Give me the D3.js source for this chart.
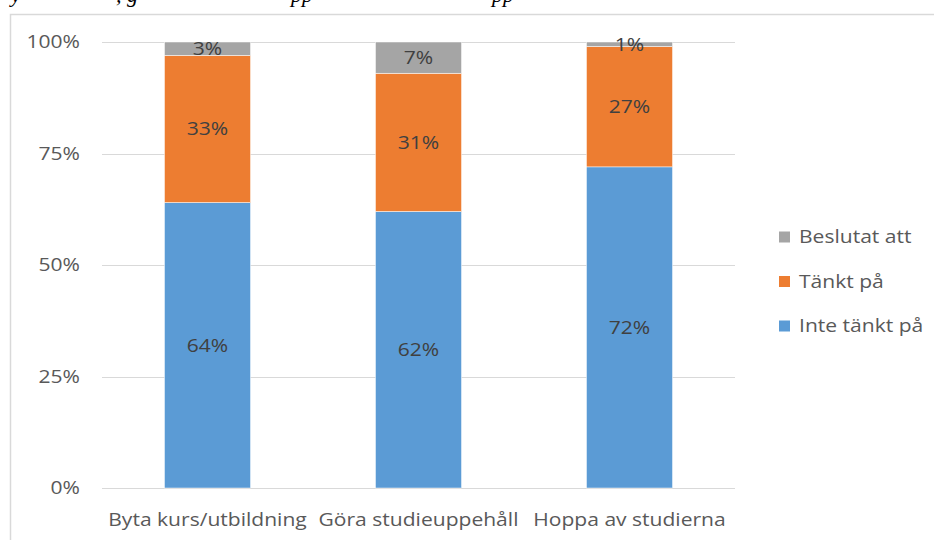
<!DOCTYPE html>
<html><head><meta charset="utf-8">
<script src="https://cdn.jsdelivr.net/npm/d3@7"></script>
<style>body{margin:0;background:#fff}svg{display:block}</style>
</head><body>
<svg id="c" width="934" height="540"></svg>
<script>
const categories = ["Byta kurs/utbildning", "Göra studieuppehåll", "Hoppa av studierna"];
const seriesNames = ["Inte tänkt på", "Tänkt på", "Beslutat att"];
const inteTanktPa = [64, 62, 72];
const tanktPa = [33, 31, 27];
const beslutatAtt = [3, 7, 1];
const yTicks = [0, 25, 50, 75, 100];
const colors = ["#5b9bd5", "#ed7d31", "#a5a5a5"];

const svg = d3.select("#c");
const font = "'Open Sans', 'Noto Sans', sans-serif";
const fs = 18;
const stretch = "scale(1.17,1)";

// clipped caption line from the page above
const cap = svg.append("g").attr("font-family", "'Liberation Serif', serif")
  .attr("font-style", "italic").attr("font-size", 22).attr("fill", "#000");
[["y", 11], [", g", 116], ["pp", 291], ["pp", 492]].forEach(([t, x]) =>
  cap.append("text").attr("x", x).attr("y", 2).text(t));

// chart frame
svg.append("rect").attr("x", 10.5).attr("y", 14.5).attr("width", 940).attr("height", 540)
  .attr("fill", "none").attr("stroke", "#d9d9d9").attr("stroke-width", 1.5);

const x = d3.scaleBand().domain(categories).range([102, 735]).paddingInner(0.592).paddingOuter(0.296);
const y = d3.scaleLinear().domain([0, 100]).range([488, 42]);

// gridlines
svg.append("g").selectAll("line").data(yTicks).join("line")
  .attr("x1", 102).attr("x2", 735)
  .attr("y1", d => Math.round(y(d)) + 0.5).attr("y2", d => Math.round(y(d)) + 0.5)
  .attr("stroke", "#d9d9d9").attr("stroke-width", 1);

// y axis labels
const yAxis = d3.axisLeft(y).tickValues(yTicks).tickFormat(d => d + "%").tickSize(0).tickPadding(0);
const ya = svg.append("g").attr("transform", "translate(80,0)").call(yAxis);
ya.select(".domain").remove();
ya.selectAll("text").attr("font-family", font).attr("font-size", fs).attr("fill", "#595959")
  .attr("transform", stretch);

// x axis labels
const xAxis = d3.axisBottom(x).tickSize(0).tickPadding(0);
const xa = svg.append("g").attr("transform", "translate(0,513)").call(xAxis);
xa.select(".domain").remove();
xa.selectAll("text").attr("font-family", font).attr("font-size", fs).attr("fill", "#595959")
  .attr("transform", stretch);

const rows = categories.map((c, i) => ({cat: c, "Inte tänkt på": inteTanktPa[i], "Tänkt på": tanktPa[i], "Beslutat att": beslutatAtt[i]}));
const stack = d3.stack().keys(seriesNames)(rows);

const g = svg.append("g");
stack.forEach((s, si) => {
  const sg = g.append("g").attr("fill", colors[si]);
  sg.selectAll("rect").data(s).join("rect")
    .attr("x", d => x(d.data.cat)).attr("width", x.bandwidth())
    .attr("y", d => y(d[1])).attr("height", d => y(d[0]) - y(d[1]))
    .attr("stroke", "#fff").attr("stroke-width", 0.5);
});
stack.forEach((s, si) => {
  g.append("g").selectAll("text").data(s).join("text")
    .attr("transform", d => `translate(${x(d.data.cat) + x.bandwidth() / 2},${(y(d[0]) + y(d[1])) / 2}) ${stretch}`)
    .attr("dy", "0.35em").attr("text-anchor", "middle")
    .attr("font-family", font).attr("font-size", fs).attr("fill", "#404040")
    .text(d => (d[1] - d[0]) + "%");
});

// legend (reverse order)
const legendItems = seriesNames.map((n, i) => ({n, c: colors[i]})).reverse();
const lg = svg.append("g").attr("transform", "translate(779,237)");
legendItems.forEach((d, i) => {
  const r = lg.append("g").attr("transform", `translate(0,${i * 44.5})`);
  r.append("rect").attr("x", 0).attr("y", -5.5).attr("width", 11).attr("height", 11).attr("fill", d.c);
  r.append("text").attr("transform", `translate(20,0) ${stretch}`).attr("dy", "0.35em").attr("font-family", font)
    .attr("font-size", fs).attr("fill", "#595959").text(d.n);
});
</script>
</body></html>
